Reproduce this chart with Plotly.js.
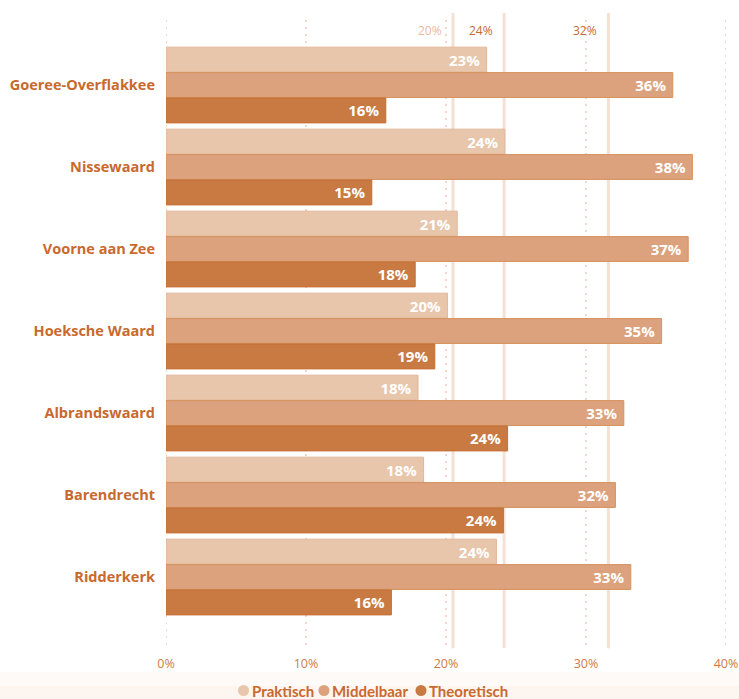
<!DOCTYPE html>
<html><head><meta charset="utf-8">
<script src="https://cdn.plot.ly/plotly-3.0.1.min.js"></script>
<style>html,body{margin:0;padding:0;background:#fff}#c{width:739px;height:699px}</style>
</head><body><div id="c"></div>
<script>
const gemeenten = ["Goeree-Overflakkee","Nissewaard","Voorne aan Zee","Hoeksche Waard","Albrandswaard","Barendrecht","Ridderkerk"];
const praktisch   = [22.9, 24.2, 20.8, 20.1, 18.0, 18.4, 23.6];
const middelbaar  = [36.2, 37.6, 37.3, 35.4, 32.7, 32.1, 33.2];
const theoretisch = [15.7, 14.7, 17.8, 19.2, 24.4, 24.1, 16.1];
const seriesNames = ["Praktisch","Middelbaar","Theoretisch"];
const seriesColors = ["#e8c6ab","#dba27d","#c97a43"];
const lineColors = ["#e2b697","#d6935f","#c56f34"];
const refValues = [20.5, 24.15, 31.6];
const refLabels = ["20%","24%","32%"];
const refLabelColors = ["#eab99c","#c8692e","#c8692e"];
const xTicks = [0,10,20,30,40];
const xTickLabels = ["0%","10%","20%","30%","40%"];

const seriesData = [praktisch, middelbaar, theoretisch];
const FONT = "Open Sans, Noto Sans, sans-serif";
const ORANGE = "#c8692e";

const traces = seriesData.map((d,i)=>({
  type:"bar", orientation:"h", name:seriesNames[i],
  y: gemeenten.map((g,k)=>k), x:d,
  marker:{color:seriesColors[i], line:{color:lineColors[i], width:1}},
  text:d.map(v=>Math.round(v)+"%\u00a0"),
  textposition:"inside", insidetextanchor:"end",
  textfont:{color:"#ffffff", size:15, family:FONT, weight:"bold"},
  constraintext:"none", cliponaxis:false,
  showlegend:false, hoverinfo:"skip"
}));

// plot area in pixels (for legend placement)
const PL = 166, PW = 560, PT = 15, PH = 630;
const px = x => (x - PL) / PW;
const py = y => (PT + PH - y) / PH;

const shapes = [];
// faint bottom tint
shapes.push({type:"rect", xref:"paper", yref:"paper", x0:px(0), x1:px(739), y0:py(672), y1:py(686),
  fillcolor:"#fefaf7", line:{width:0}, layer:"below"});
shapes.push({type:"rect", xref:"paper", yref:"paper", x0:px(0), x1:px(739), y0:py(686), y1:py(699),
  fillcolor:"#fdf5f0", line:{width:0}, layer:"below"});
xTicks.forEach(v=>shapes.push({
  type:"line", xref:"x", yref:"paper", x0:v, x1:v, y0:0, y1:1,
  line:{color:"#efc9b2", width:1.5, dash:"2px,5px"}, layer:"below"
}));
refValues.forEach(v=>shapes.push({
  type:"line", xref:"x", yref:"paper", x0:v, x1:v, y0:-0.005, y1:1.003,
  line:{color:"#f4e0d4", width:3}, layer:"below"
}));
const annotations = refValues.map((v,i)=>({
  xref:"x", yref:"paper", x:v, y:1.0, xanchor:"right", yanchor:"middle",
  xshift:-9, yshift:-15, showarrow:false, text:refLabels[i],
  font:{family:FONT, size:12, color:refLabelColors[i]}
}));

// custom legend with round markers
const legendCircleX = [243.5, 324, 421];
const legendTextX = [251, 331, 428];
const LEG_Y = 690.5;
seriesNames.forEach((n,i)=>{
  shapes.push({type:"circle", xref:"paper", yref:"paper", xsizemode:"pixel", ysizemode:"pixel",
    xanchor:px(legendCircleX[i]), yanchor:py(LEG_Y), x0:-5.5, x1:5.5, y0:-5.5, y1:5.5,
    fillcolor:seriesColors[i], line:{width:0}});
  annotations.push({xref:"paper", yref:"paper", x:px(legendTextX[i]), y:py(LEG_Y),
    xanchor:"left", yanchor:"middle", showarrow:false, borderpad:0,
    text:"<b>"+n+"</b>", font:{family:"Lato, Open Sans, sans-serif", size:15, color:ORANGE}});
});

const layout = {
  width:739, height:699,
  margin:{l:PL, r:739-PL-PW, t:PT, b:699-PT-PH, autoexpand:false},
  paper_bgcolor:"#ffffff", plot_bgcolor:"rgba(0,0,0,0)",
  barmode:"group", bargap:0.07, bargroupgap:0.02,
  font:{family:FONT, color:ORANGE},
  xaxis:{range:[0,40], tickvals:xTicks, ticktext:xTickLabels,
    showgrid:false, zeroline:false, showline:false, ticks:"", ticklabelstandoff:9,
    tickfont:{size:12.5, color:"#d07a45", family:FONT}, fixedrange:true},
  yaxis:{range:[6.829,-0.854], tickvals:gemeenten.map((g,k)=>k), ticktext:gemeenten,
    showgrid:false, zeroline:false, showline:false, ticks:"", ticklabelstandoff:10,
    tickfont:{size:14.5, color:ORANGE, family:FONT, weight:"bold"}},
  shapes, annotations,
  showlegend:false
};
Plotly.newPlot("c", traces, layout, {displayModeBar:false, staticPlot:true});
</script></body></html>
